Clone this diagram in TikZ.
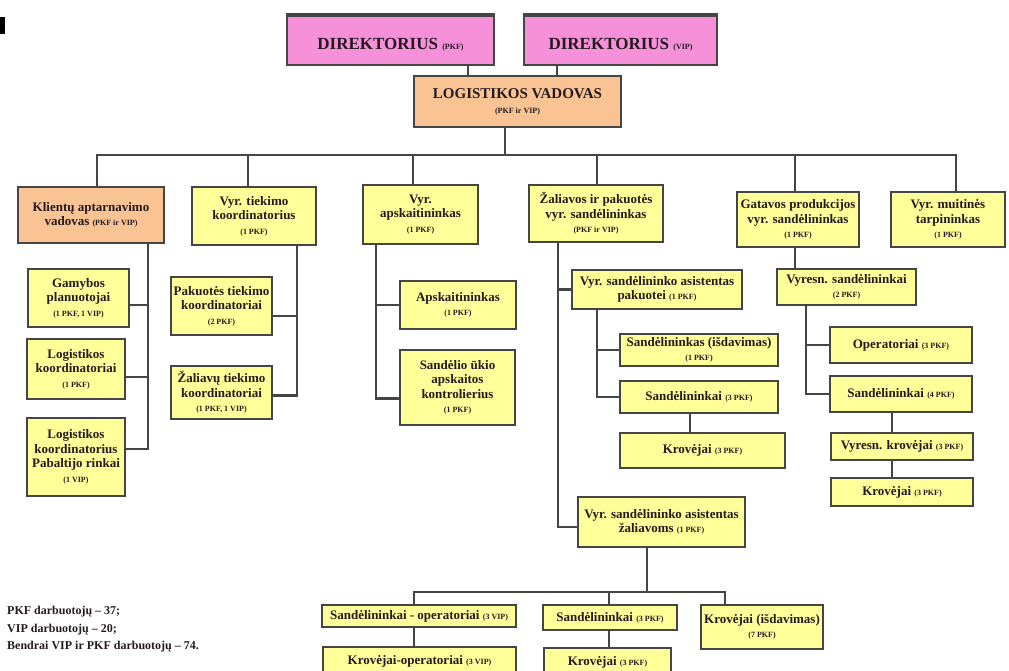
\documentclass[tikz,border=0pt]{standalone}
\usepackage{fontspec}
\setmainfont{Liberation Serif}
\definecolor{pinkbox}{HTML}{F690D8}
\definecolor{orangebox}{HTML}{FAC393}
\definecolor{yellowbox}{HTML}{FFFF99}
\definecolor{edge}{HTML}{454545}
\definecolor{ink}{HTML}{241A20}
\newcommand\nt[1]{{\fontsize{8}{9.5}\selectfont #1}}
\newcommand\lowered[1]{\raisebox{-10pt}[0pt][0pt]{#1}}
\begin{document}
\begin{tikzpicture}[x=1pt,y=-1pt,
  box/.style={draw=edge, line width=2.6pt, fill=yellowbox, inner sep=0pt, align=center,
              text=ink, font=\fontsize{13}{14.5}\selectfont\bfseries},
  orangebx/.style={box, fill=orangebox},
  pinkbx/.style={box, fill=pinkbox, font=\fontsize{17}{19}\selectfont\bfseries},
  rect/.style n args={4}{at={({(#1+#3)/2},{(#2+#4)/2})},
              minimum width={(#3-#1)*1pt}, minimum height={(#4-#2)*1pt}},
  link/.style={draw=edge, line width=2.4pt, line cap=rect},
]
\path[use as bounding box] (0,0) rectangle (1009,671);

% fragment of a glyph at the left edge
\fill[black] (0,17) rectangle (5,34);

% top level
\node[pinkbx, rect={287}{14}{494}{65}] (d1) {\lowered{DIREKTORIUS \nt{(PKF)}}};
\node[pinkbx, rect={524}{14}{717}{65}] (d2) {\lowered{DIREKTORIUS \nt{(VIP)}}};
\fill[edge] (d1.north west) rectangle ([yshift=-4pt]d1.north east);
\fill[edge] (d2.north west) rectangle ([yshift=-4pt]d2.north east);
\node[orangebx, rect={414}{76}{621}{127}, font=\fontsize{15}{17}\selectfont\bfseries] (lv)
  {LOGISTIKOS VADOVAS\\[-2pt]\nt{(PKF ir VIP)}};

% second level
\node[orangebx, rect={18}{187}{164}{243}] (k1) {Klientų aptarnavimo\\ vadovas \nt{(PKF ir VIP)}};
\node[box, rect={192}{187}{316}{245}] (k2) {Vyr. tiekimo\\ koordinatorius\\ \nt{(1 PKF)}};
\node[box, rect={363}{185}{478}{244}] (k3) {Vyr.\\ apskaitininkas\\ \nt{(1 PKF)}};
\node[box, rect={529}{185}{663}{242}] (k4) {Žaliavos ir pakuotės\\ vyr. sandėlininkas\\ \nt{(PKF ir VIP)}};
\node[box, rect={737}{192}{859}{247}] (k5) {Gatavos produkcijos\\ vyr. sandėlininkas\\ \nt{(1 PKF)}};
\node[box, rect={891}{192}{1005}{247}] (k6) {Vyr. muitinės\\ tarpininkas\\ \nt{(1 PKF)}};

% customer service branch
\node[box, rect={28}{269}{129}{327}] (gp) {Gamybos\\ planuotojai\\ \nt{(1 PKF, 1 VIP)}};
\node[box, rect={27}{339}{125}{399}] (lk) {Logistikos\\ koordinatoriai\\ \nt{(1 PKF)}};
\node[box, rect={27}{418}{125}{496}] (lp) {Logistikos\\ koordinatorius\\ Pabaltijo rinkai\\ \nt{(1 VIP)}};

% supply branch
\node[box, rect={171}{277}{272}{335}] (pt) {Pakuotės tiekimo\\ koordinatoriai\\ \nt{(2 PKF)}};
\node[box, rect={171}{366}{272}{419}] (zt) {Žaliavų tiekimo\\ koordinatoriai\\ \nt{(1 PKF, 1 VIP)}};

% accounting branch
\node[box, rect={400}{281}{516}{329}] (ap) {Apskaitininkas\\ \nt{(1 PKF)}};
\node[box, rect={400}{350}{515}{425}] (sk) {Sandėlio ūkio\\ apskaitos\\ kontrolierius\\ \nt{(1 PKF)}};

% raw material and packaging warehouse
\node[box, rect={572}{270}{742}{309}] (ap1) {Vyr. sandėlininko asistentas\\ pakuotei \nt{(1 PKF)}};
\node[box, rect={620}{334}{778}{366}] (si) {Sandėlininkas (išdavimas)\\ \nt{(1 PKF)}};
\node[box, rect={620}{381}{778}{413}] (s3) {Sandėlininkai \nt{(3 PKF)}};
\node[box, rect={620}{433}{785}{468}] (kr3) {Krovėjai \nt{(3 PKF)}};
\node[box, rect={578}{497}{745}{547}] (az) {Vyr. sandėlininko asistentas\\ žaliavoms \nt{(1 PKF)}};
\node[box, rect={322}{605}{516}{627}] (so) {Sandėlininkai - operatoriai \nt{(3 VIP)}};
\node[box, rect={543}{605}{677}{630}] (s3b) {Sandėlininkai \nt{(3 PKF)}};
\node[box, rect={701}{605}{823}{649}] (ki) {Krovėjai (išdavimas)\\ \nt{(7 PKF)}};
\node[box, rect={323}{647}{516}{676}] (ko) {Krovėjai-operatoriai \nt{(3 VIP)}};
\node[box, rect={544}{648}{671}{676}] (kb) {Krovėjai \nt{(3 PKF)}};

% finished goods warehouse
\node[box, rect={777}{269}{916}{305}] (vs) {Vyresn. sandėlininkai\\ \nt{(2 PKF)}};
\node[box, rect={830}{327}{972}{363}] (op) {Operatoriai \nt{(3 PKF)}};
\node[box, rect={830}{376}{972}{412}] (s4) {Sandėlininkai \nt{(4 PKF)}};
\node[box, rect={831}{433}{973}{460}] (vk) {Vyresn. krovėjai \nt{(3 PKF)}};
\node[box, rect={831}{478}{973}{506}] (kk) {Krovėjai \nt{(3 PKF)}};

% staff summary
\node[anchor=north west, align=left, inner sep=0pt, text=ink,
      font=\fontsize{12}{17.5}\selectfont\bfseries] (note) at (7,606)
  {PKF darbuotojų – 37;\\ VIP darbuotojų – 20;\\ Bendrai VIP ir PKF darbuotojų – 74.};

% ---- connectors ----
\coordinate (t1) at (468,0);
\coordinate (t2) at (557,0);
\draw[link, line cap=butt] (d1.south -| t1) -- (lv.north -| t1);
\draw[link, line cap=butt] (d2.south -| t2) -- (lv.north -| t2);

\coordinate (bj) at (505,155);
\coordinate (b1) at (97,155);
\coordinate (b2) at (248,155);
\coordinate (b3) at (413,155);
\coordinate (b4) at (597,155);
\coordinate (b5) at (795,155);
\coordinate (b6) at (956,155);
\draw[link] (lv.south -| bj) -- (bj);
\draw[link] (b1) -- (b6);
\draw[link] (b1) -- (b1 |- k1.north);
\draw[link] (b2) -- (b2 |- k2.north);
\draw[link] (b3) -- (b3 |- k3.north);
\draw[link] (b4) -- (b4 |- k4.north);
\draw[link] (b5) -- (b5 |- k5.north);
\draw[link] (b6) -- (b6 |- k6.north);

% attachment points on the side of boxes
\coordinate (gpE) at ([yshift=-7pt]gp.east);
\coordinate (lkE) at ([yshift=-8pt]lk.east);
\coordinate (lpE) at ([yshift=8pt]lp.east);
\coordinate (ptE) at ([yshift=-10pt]pt.east);
\coordinate (ztE) at ([yshift=-3pt]zt.east);
\coordinate (skW) at ([yshift=-11pt]sk.west);
\coordinate (azW) at ([yshift=-5pt]az.west);

% customer service
\coordinate (c1) at (148,0);
\draw[link] (k1.south -| c1) -- (c1 |- lpE);
\draw[link] (gpE) -- (gpE -| c1);
\draw[link] (lkE) -- (lkE -| c1);
\draw[link] (lpE) -- (lpE -| c1);

% supply
\coordinate (c2) at (297,0);
\draw[link] (k2.south -| c2) -- (c2 |- ztE);
\draw[link] (ptE) -- (ptE -| c2);
\draw[link] (ztE) -- (ztE -| c2);

% accounting
\coordinate (c3) at (376,0);
\draw[link] (k3.south -| c3) -- (c3 |- skW);
\draw[link] (ap.west) -- (ap.west -| c3);
\draw[link] (skW) -- (skW -| c3);

% raw material and packaging warehouse
\coordinate (c4) at (558,0);
\draw[link] (k4.south -| c4) -- (c4 |- azW);
\draw[link] (ap1.west) -- (ap1.west -| c4);
\draw[link] (azW) -- (azW -| c4);

\coordinate (c5) at (597,0);
\draw[link] (ap1.south -| c5) -- (c5 |- s3.west);
\draw[link] (si.west) -- (si.west -| c5);
\draw[link] (s3.west) -- (s3.west -| c5);
\coordinate (c6) at (690,0);
\draw[link] (s3.south -| c6) -- (kr3.north -| c6);

\coordinate (zj) at (647,592);
\coordinate (z1) at (414,592);
\coordinate (z2) at (609,592);
\coordinate (z3) at (725,592);
\draw[link] (az.south -| zj) -- (zj);
\draw[link] (z1) -- (z3);
\draw[link] (z1) -- (z1 |- so.north);
\draw[link] (z2) -- (z2 |- s3b.north);
\draw[link] (z3) -- (z3 |- ki.north);
\draw[link] (so.south -| z1) -- (ko.north -| z1);
\draw[link] (s3b.south -| z2) -- (kb.north -| z2);

% finished goods warehouse
\coordinate (c7) at (795,0);
\draw[link] (k5.south -| c7) -- (vs.north -| c7);
\coordinate (c8) at (806,0);
\draw[link] (vs.south -| c8) -- (c8 |- s4.west);
\draw[link] (op.west) -- (op.west -| c8);
\draw[link] (s4.west) -- (s4.west -| c8);
\coordinate (c9) at (892,0);
\draw[link] (s4.south -| c9) -- (vk.north -| c9);
\draw[link] (vk.south -| c9) -- (kk.north -| c9);
\end{tikzpicture}
\end{document}
